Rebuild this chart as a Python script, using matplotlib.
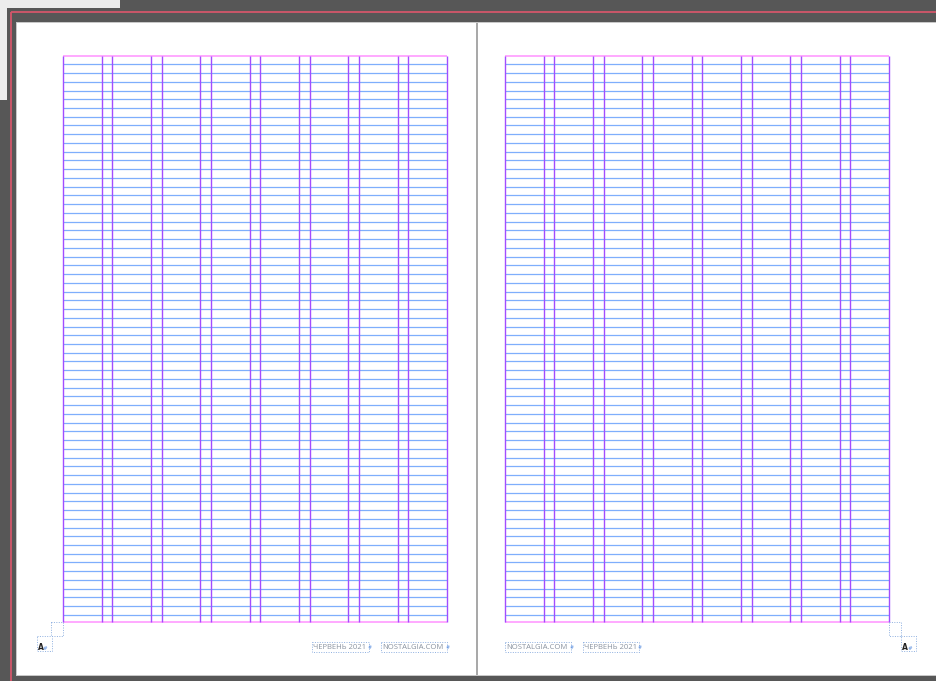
import matplotlib
matplotlib.use("Agg")
import matplotlib.pyplot as plt
from matplotlib.patches import Rectangle
import numpy as np

# ---- layout "data" (InDesign spread guides) ----
W, H = 936, 681
page_left_edges = [63, 505]          # left margin of each page's text area
text_area_width = 384
grid_top, grid_bottom = 56, 622
n_columns = 8
gutter = 10.6
baseline_start = 64.3
baseline_step = 8.74
n_baselines = 64
footer_left_page = ["ЧЕРВЕНЬ 2021", "NOSTALGIA.COM"]
footer_right_page = ["NOSTALGIA.COM", "ЧЕРВЕНЬ 2021"]
footer_left_x = [312, 381]
footer_right_x = [505, 583]
footer_widths_left = [57, 66]
footer_widths_right = [66, 56]

DARK = '#575757'
RED = '#d4566a'
BLUE = '#7eaefc'
PINK = '#ffa3ff'
PURPLE = '#a24dff'
FRAME = '#8fb0e0'
TEXT = '#8a93a0'

fig = plt.figure(figsize=(W / 100, H / 100), dpi=100)
fig.patch.set_facecolor(DARK)
ax = fig.add_axes([0, 0, 1, 1])
ax.set_xlim(0, W)
ax.set_ylim(H, 0)
ax.axis('off')

# light corner strip (application chrome)
ax.add_patch(Rectangle((0, 0), 120, 8, fc='#ececec', ec='none'))
ax.add_patch(Rectangle((0, 0), 7, 100, fc='#ececec', ec='none'))

# bleed / slug red line
ax.plot([10.5, W], [11.5, 11.5], color=RED, lw=1.3, solid_capstyle='butt')
ax.plot([10.5, 10.5], [11.5, H], color=RED, lw=1.3, solid_capstyle='butt')

# pages
ax.add_patch(Rectangle((16, 22), W - 16, 654, fc='#c8c8c8', ec='none'))
ax.add_patch(Rectangle((17, 23), 459, 652, fc='white', ec='none'))
ax.add_patch(Rectangle((478, 23), W - 478, 652, fc='white', ec='none'))
ax.add_patch(Rectangle((476, 23), 2, 652, fc='#a9a9a9', ec='none'))

col_w = (text_area_width - (n_columns - 1) * gutter) / n_columns
ys = baseline_start + baseline_step * np.arange(n_baselines)

for x0 in page_left_edges:
    x1 = x0 + text_area_width
    ax.hlines(ys, x0, x1, color=BLUE, lw=0.9, zorder=2)
    ax.hlines([grid_top, grid_bottom], x0, x1, color=PINK, lw=1.3, zorder=3)
    xs = []
    for i in range(n_columns):
        left = x0 + i * (col_w + gutter)
        xs += [left, left + col_w]
    ax.vlines(xs, grid_top, grid_bottom, color=PURPLE, lw=1.0, zorder=4)

# footers
def footer(labels, xs, widths):
    for lab, x, w in zip(labels, xs, widths):
        ax.add_patch(Rectangle((x, 642), w, 10, fill=False, ec=FRAME, lw=0.7,
                               ls=(0, (1, 1.5)), zorder=5))
        ax.text(x + 1, 647.5, lab, color=TEXT, fontsize=5.5, va='center', ha='left',
                family=['Open Sans', 'DejaVu Sans'], zorder=6)
        ax.text(x + w - 1, 647.5, '#', color='#5b8fe0', fontsize=3.5, va='center',
                ha='left', family=['DejaVu Sans'], zorder=6)

footer(footer_left_page, footer_left_x, footer_widths_left)
footer(footer_right_page, footer_right_x, footer_widths_right)

# small text frame icons in the corners
def corner(sq_x, fr_x, ax_x):
    ax.add_patch(Rectangle((sq_x, 622), 12, 14, fill=False, ec=FRAME, lw=0.7,
                           ls=(0, (1, 1.5)), zorder=5))
    ax.add_patch(Rectangle((fr_x, 636), 15, 15, fill=False, ec=FRAME, lw=0.7,
                           ls=(0, (1, 1.5)), zorder=5))
    ax.text(ax_x, 647.5, 'A', color='#222222', fontsize=5.5, fontweight='bold',
            va='center', ha='left', family=['DejaVu Sans'], zorder=6)
    ax.text(ax_x + 5.5, 648, '#', color='#5b8fe0', fontsize=4, va='center',
            ha='left', family=['DejaVu Sans'], zorder=6)

corner(51, 37, 37.5)
corner(889, 901, 902)

fig.savefig('out.png', dpi=100, facecolor=fig.get_facecolor())
